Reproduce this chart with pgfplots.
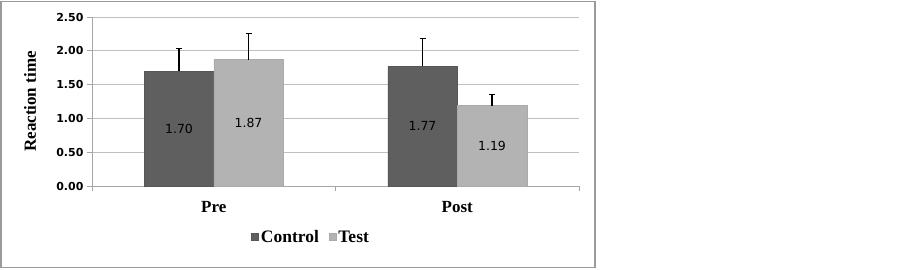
\documentclass[border=0pt]{standalone}
\usepackage{pgfplots}
\pgfplotsset{compat=1.18}
\usepackage{fontspec}
\setmainfont{Liberation Serif}
\newfontfamily\dejavu{DejaVu Sans}
\definecolor{ctrl}{HTML}{5F5F5F}
\definecolor{tst}{HTML}{B3B3B3}
\definecolor{axgray}{HTML}{A6A6A6}
\definecolor{gridgray}{HTML}{BFBFBF}
\definecolor{framegray}{HTML}{9A9A9A}
\begin{document}
\begin{tikzpicture}
\useasboundingbox (0pt,0pt) rectangle (902pt,269pt);
\fill[white] (0pt,0pt) rectangle (902pt,269pt);
\draw[framegray, line width=1.4pt] (1pt,1.5pt) rectangle (595pt,267.5pt);
\begin{axis}[
  at={(92pt,83pt)}, anchor=south west,
  scale only axis, width=487pt, height=169pt,
  xmin=0, xmax=2, ymin=0, ymax=2.5,
  axis lines*=left,
  axis line style={draw=axgray, line width=0.8pt},
  ybar=0pt, bar width=69.5pt,
  xtick={0.5,1.5}, xticklabels={Pre,Post},
  major x tick style={draw=none},
  minor xtick={0,1,2},
  minor x tick style={draw=axgray, line width=0.8pt},
  y tick style={draw=axgray, line width=0.8pt},
  tick align=outside,
  major tick length=5pt, minor tick length=5pt,
  ytick={0,0.5,1,1.5,2,2.5},
  ymajorgrids, grid style={draw=gridgray, line width=0.8pt},
  /pgf/number format/assume math mode=true,
  yticklabel style={font=\dejavu\bfseries\fontsize{11}{12}\selectfont,
    /pgf/number format/.cd, fixed, fixed zerofill, precision=2},
  xticklabel style={font=\bfseries\fontsize{17}{19}\selectfont, yshift=-7pt},
  ylabel={Reaction time},
  ylabel style={font=\bfseries\fontsize{17}{19}\selectfont, at={(axis description cs:-0.127,0.5)}, anchor=center},
  legend columns=2,
  legend style={draw=none, at={(0.45,-0.302)}, anchor=center,
    font=\bfseries\fontsize{17.5}{19}\selectfont,
    nodes={inner xsep=2pt},
    /tikz/every even column/.append style={column sep=8pt}},
  legend image code/.code={\fill[#1] (0pt,-3.5pt) rectangle (7pt,3.5pt);},
  visualization depends on=y \as \rawy,
  nodes near coords,
  point meta=y,
  nodes near coords style={font=\dejavu\fontsize{12.5}{14}\selectfont, text=black,
    anchor=center, shift={(axis direction cs:0,-\rawy/2)},
    /pgf/number format/.cd, fixed, fixed zerofill, precision=2},
]
\addplot[fill=ctrl, draw=ctrl!90!black, line width=0.5pt,
  error bars/.cd, y dir=plus, y explicit,
  error bar style={black, line width=1.2pt},
  error mark options={black, line width=1.2pt, mark size=3pt, rotate=90}]
  coordinates {(0.5,1.70) +- (0,0.33) (1.5,1.77) +- (0,0.41)};
\addlegendentry{Control}
\addplot[fill=tst, draw=tst!95!black, line width=0.5pt,
  error bars/.cd, y dir=plus, y explicit,
  error bar style={black, line width=1.2pt},
  error mark options={black, line width=1.2pt, mark size=3pt, rotate=90}]
  coordinates {(0.5,1.87) +- (0,0.39) (1.5,1.19) +- (0,0.16)};
\addlegendentry{Test}
\end{axis}
\end{tikzpicture}
\end{document}
